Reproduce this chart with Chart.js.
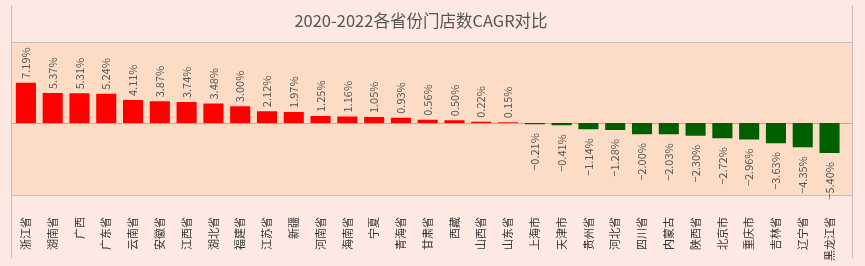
<!DOCTYPE html>
<html>
<head>
<meta charset="utf-8">
<script src="https://cdn.jsdelivr.net/npm/chart.js@4"></script>
<style>
    html, body { margin: 0; padding: 0; background: #fde9e1; }
    #wrap { width: 865px; height: 266px; }
</style>
</head>
<body>
<div id="wrap"><canvas id="cagrChart" width="865" height="266"></canvas></div>
<script>
// Data
const provinces = ['浙江省', '湖南省', '广西', '广东省', '云南省', '安徽省', '江西省', '湖北省', '福建省', '江苏省',
    '新疆', '河南省', '海南省', '宁夏', '青海省', '甘肃省', '西藏', '山西省', '山东省', '上海市',
    '天津市', '贵州省', '河北省', '四川省', '内蒙古', '陕西省', '北京市', '重庆市', '吉林省', '辽宁省', '黑龙江省'];
const cagrValues = [7.19, 5.37, 5.31, 5.24, 4.11, 3.87, 3.74, 3.48, 3.00, 2.12,
    1.97, 1.25, 1.16, 1.05, 0.93, 0.56, 0.50, 0.22, 0.15, -0.21,
    -0.41, -1.14, -1.28, -2.00, -2.03, -2.30, -2.72, -2.96, -3.63, -4.35, -5.40];
const yRange = [-12.9, 14.5];
const chartTitle = '2020-2022各省份门店数CAGR对比';

const cjkFont = '"Noto Sans CJK SC", "Noto Sans", sans-serif';

function fmt(v) {
    const s = Math.abs(v).toFixed(2) + '%';
    return v < 0 ? '\u2212' + s : s;
}

// Backgrounds, frame lines and title
const framePlugin = {
    id: 'frame',
    beforeDraw(chart) {
        const { ctx, chartArea: a, width, height } = chart;
        ctx.save();
        ctx.fillStyle = '#fde9e1';
        ctx.fillRect(0, 0, width, height);
        ctx.fillStyle = '#fcdcc5';
        ctx.fillRect(11, a.top, 841, a.bottom - a.top);
        ctx.strokeStyle = '#c9bdb8';
        ctx.lineWidth = 1;
        ctx.beginPath();
        ctx.moveTo(11.5, 5); ctx.lineTo(11.5, 258);
        ctx.moveTo(852.5, 5); ctx.lineTo(852.5, 258);
        ctx.moveTo(11, a.top + 0.5); ctx.lineTo(852, a.top + 0.5);
        ctx.moveTo(11, a.bottom + 0.5); ctx.lineTo(852, a.bottom + 0.5);
        ctx.stroke();
        const y0 = Math.round(chart.scales.y.getPixelForValue(0)) + 0.5;
        ctx.strokeStyle = '#b8aca6';
        ctx.beginPath();
        ctx.moveTo(11, y0); ctx.lineTo(852, y0);
        ctx.stroke();
        ctx.fillStyle = '#555555';
        ctx.font = '16.5px ' + cjkFont;
        ctx.textAlign = 'center';
        ctx.textBaseline = 'middle';
        ctx.fillText(chartTitle, 421, 21);
        ctx.restore();
    }
};

// Vertical value labels above / below each bar
const valueLabels = {
    id: 'valueLabels',
    afterDatasetsDraw(chart) {
        const { ctx } = chart;
        const meta = chart.getDatasetMeta(0);
        ctx.save();
        ctx.fillStyle = '#555555';
        ctx.font = '11px ' + cjkFont;
        ctx.textBaseline = 'middle';
        meta.data.forEach((bar, i) => {
            const v = cagrValues[i];
            ctx.save();
            if (v >= 0) {
                ctx.translate(bar.x, bar.y - 4);
                ctx.rotate(-Math.PI / 2);
                ctx.textAlign = 'left';
            } else {
                ctx.translate(bar.x, bar.y + 9);
                ctx.rotate(-Math.PI / 2);
                ctx.textAlign = 'right';
            }
            ctx.fillText(fmt(v), 0, 0);
            ctx.restore();
        });
        ctx.restore();
    }
};

new Chart(document.getElementById('cagrChart'), {
    type: 'bar',
    data: {
        labels: provinces,
        datasets: [{
            label: 'CAGR',
            data: cagrValues,
            backgroundColor: cagrValues.map(v => v >= 0 ? '#ff0000' : '#006000'),
            barPercentage: 0.75,
            categoryPercentage: 1
        }]
    },
    options: {
        responsive: false,
        animation: false,
        layout: { padding: { left: 12.5, right: 17, top: 42, bottom: 0 } },
        plugins: {
            legend: { display: false },
            tooltip: { enabled: false }
        },
        scales: {
            x: {
                grid: { display: false, drawTicks: false },
                border: { display: false },
                ticks: {
                    autoSkip: false,
                    maxRotation: 90,
                    minRotation: 90,
                    padding: 22,
                    color: '#333333',
                    font: { size: 11, family: cjkFont }
                },
                afterFit: s => { s.height = 71; }
            },
            y: {
                display: false,
                min: yRange[0],
                max: yRange[1]
            }
        }
    },
    plugins: [framePlugin, valueLabels]
});
</script>
</body>
</html>
